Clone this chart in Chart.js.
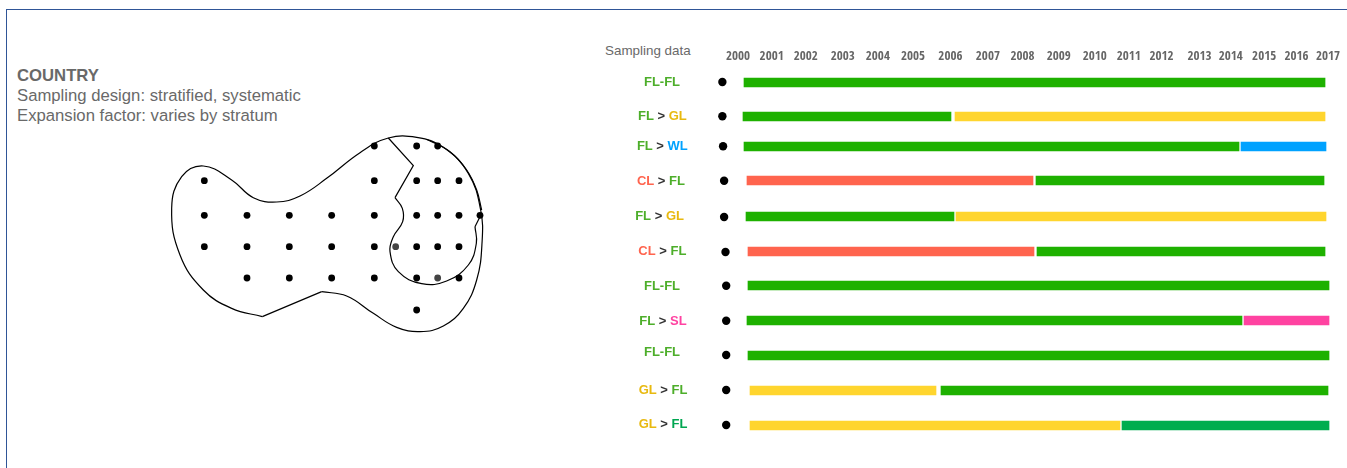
<!DOCTYPE html>
<html>
<head>
<meta charset="utf-8">
<script src="https://cdn.jsdelivr.net/npm/chart.js@4/dist/chart.umd.js"></script>
<style>
  html,body{margin:0;padding:0;background:#fff;width:1347px;height:468px;overflow:hidden;font-family:'Liberation Sans',Arial,sans-serif;}
  #frame{position:absolute;left:6px;top:9px;right:0;bottom:0;border-left:1px solid #2f5597;border-top:1px solid #2f5597;}
  canvas{position:absolute;display:block;}
  .t{position:absolute;white-space:nowrap;color:#696969;font-size:16.7px;line-height:20px;left:17px;}
</style>
</head>
<body>
<div id="frame"></div>
<div class="t" style="top:66px;font-weight:bold;">COUNTRY</div>
<div class="t" style="top:86px;">Sampling design: stratified, systematic</div>
<div class="t" style="top:106px;">Expansion factor: varies by stratum</div>
<div class="t" style="left:605px;top:41px;font-size:13.4px;">Sampling data</div>
<canvas id="map" width="340" height="210" style="left:160px;top:130px"></canvas>
<canvas id="timeline" width="757" height="468" style="left:590px;top:0"></canvas>
<script>
// ---- Timeline data ----
const yearLabels = ['2000','2001','2002','2003','2004','2005','2006','2007','2008','2009','2010','2011','2012','2013','2014','2015','2016','2017'];
const yearTickPositions = [2000,2000.97,2001.95,2003.02,2004.03,2005.04,2006.12,2007.2,2008.2,2009.24,2010.28,2011.26,2012.2,2013.3,2014.2,2015.16,2016.09,2017];
const rowFrom = ['FL','FL','FL','CL','FL','CL','FL','FL','FL','GL','GL'];
const rowSep  = ['-','>','>','>','>','>','-','>','-','>','>'];
const rowTo   = ['FL','GL','WL','FL','GL','FL','FL','SL','FL','FL','FL2'];
const rowLabelX = [1997.81,1997.82,1997.82,1997.78,1997.74,1997.82,1997.81,1997.84,1997.81,1997.84,1997.84];
const rowLabelY = [0.985,1.977,2.851,3.872,4.892,5.913,6.933,7.953,8.857,9.965,10.956];
const barY = [1,1.991,2.866,3.857,4.907,5.927,6.918,7.939,8.959,9.98,11];
const dotX = [1999.55,1999.55,1999.57,1999.6,1999.6,1999.64,1999.66,1999.66,1999.66,1999.66,1999.66];
const dotY = [0.985,1.985,2.86,3.863,4.92,5.94,6.924,7.944,8.945,9.965,10.985];
const firstStart = [2000.173,2000.144,2000.173,2000.259,2000.231,2000.288,2000.288,2000.259,2000.288,2000.346,2000.346];
const firstEnd   = [2016.914,2006.137,2014.436,2008.5,2006.224,2008.529,2017.029,2014.522,2017.029,2005.705,2011.007];
const secondStart= [null,2006.253,2014.493,2008.586,2006.281,2008.615,null,2014.58,null,2005.849,2011.064];
const secondEnd  = [null,2016.914,2016.942,2016.885,2016.942,2016.914,null,2017.029,null,2017,2017.029];
const barColors = {FL:'#1eb100',FL2:'#00ad4f',GL:'#ffd52e',WL:'#00a2ff',CL:'#ff644e',SL:'#ff42a1'};
const textColors = {FL:'#4dae2a',FL2:'#00a651',GL:'#e8b90f',WL:'#00a2ff',CL:'#ff644e',SL:'#ff42a1'};

// ---- Map data (units of the map's own grid) ----
const dotRows = [48,152,256,350,444,540];
const dotCols = [
  [643,770,833],
  [133,643,770,833,897],
  [133,261,388,515,643,770,833,897,960],
  [133,261,388,515,643,707,770,833,897],
  [261,388,515,643,770,833,897],
  [770]
];
const fadedDots = ['350:707','444:833'];
const outerCurve = [[485,485],[560,498],[640,550],[710,592],[780,605],[850,588],[910,535],[950,450],[966,340],[962,240],[925,130],[850,52],[770,22],[685,24],[600,68],[500,145],[420,198],[350,216],[280,203],[215,150],[130,108],[65,140],[35,235],[60,375],[130,480],[215,535],[307,560]];
const outerStraight = [[307,560],[485,485]];
const innerStraight = [[685,24],[760,107],[705,203]];
const innerCurve = [[705,203],[727,235],[728,275],[700,320],[690,365],[715,425],[785,461],[860,453],[925,405],[949,340],[945,290]];
const innerClose = [[945,290],[965,250]];
const edgeCurve = [[800,28],[870,65],[920,120],[950,180],[965,240]];

// ---- Timeline chart ----
const firstData = [], firstBg = [], secondData = [], secondBg = [];
barY.forEach((y,i)=>{
  firstData.push({x:[firstStart[i],firstEnd[i]],y});
  firstBg.push(barColors[rowFrom[i]]);
  if(secondStart[i]!==null){
    secondData.push({x:[secondStart[i],secondEnd[i]],y});
    secondBg.push(barColors[rowTo[i]]);
  }
});
const rowLabelPlugin = {
  id:'rowLabels',
  afterDraw(chart){
    const c = chart.ctx, sx = chart.scales.x, sy = chart.scales.y;
    c.save();
    c.font = "bold 13px 'Liberation Sans'";
    c.textBaseline = 'middle';
    c.textAlign = 'left';
    rowFrom.forEach((from,i)=>{
      const sep = rowSep[i]==='-' ? '-' : ' > ';
      const toText = rowTo[i].replace('2','');
      const parts = [[from,textColors[from]],[sep,rowSep[i]==='-'?textColors[from]:'#333'],[toText,textColors[rowTo[i]]]];
      const w = parts.reduce((a,p)=>a+c.measureText(p[0]).width,0);
      let x = sx.getPixelForValue(rowLabelX[i]) - w/2;
      const y = sy.getPixelForValue(rowLabelY[i]);
      parts.forEach(p=>{ c.fillStyle=p[1]; c.fillText(p[0],x,y); x+=c.measureText(p[0]).width; });
    });
    c.restore();
  }
};
new Chart(document.getElementById('timeline'),{
  data:{datasets:[
    {type:'bar',label:'First period',indexAxis:'y',data:firstData,backgroundColor:firstBg,barThickness:9,grouped:false,xAxisID:'x',yAxisID:'y'},
    {type:'bar',label:'Second period',indexAxis:'y',data:secondData,backgroundColor:secondBg,barThickness:9,grouped:false,xAxisID:'x',yAxisID:'y'},
    {type:'scatter',label:'Sampling',data:dotX.map((x,i)=>({x,y:dotY[i]})),backgroundColor:'#000',borderColor:'#000',pointRadius:4.2,pointBorderWidth:0,xAxisID:'x',yAxisID:'y'}
  ]},
  plugins:[rowLabelPlugin],
  options:{
    responsive:false,maintainAspectRatio:false,animation:false,
    layout:{padding:0,autoPadding:false},
    plugins:{legend:{display:false},tooltip:{enabled:false},title:{display:false}},
    scales:{
      x:{type:'linear',position:'top',offset:false,min:1995.736,max:2017.547,
        grid:{display:false,drawTicks:false},border:{display:false},
        afterBuildTicks(s){s.ticks = yearTickPositions.map(v=>({value:v}));},
        afterFit(s){s.height = 70;},
        ticks:{autoSkip:false,maxRotation:0,minRotation:0,padding:6,color:'#666',
          font:{family:"'Open Sans Condensed'",size:13,weight:'bold'},
          callback:(v,i)=>yearLabels[i]}
      },
      y:{type:'linear',offset:false,reverse:true,min:0.6356,max:12.239,display:false}
    }
  }
});

// ---- Map chart ----
const lineSet = (pts,tension)=>({data:pts.map(p=>({x:p[0],y:p[1]})),showLine:true,borderColor:'#000',borderWidth:1.2,pointRadius:0,tension,clip:false,fill:false});
const mapDots = [], mapDotColors = [];
dotRows.forEach((y,r)=>dotCols[r].forEach(x=>{
  mapDots.push({x,y});
  mapDotColors.push(fadedDots.includes(y+':'+x)?'#444':'#000');
}));
new Chart(document.getElementById('map'),{
  type:'scatter',
  data:{datasets:[
    lineSet(outerCurve,0.42),
    lineSet(outerStraight,0),
    lineSet(innerStraight,0),
    lineSet(innerCurve,0.42),
    lineSet(innerClose,0),
    lineSet(edgeCurve,0.4),
    {data:mapDots,backgroundColor:mapDotColors,borderWidth:0,pointRadius:3.4,clip:false}
  ]},
  options:{
    responsive:false,maintainAspectRatio:false,animation:false,
    layout:{padding:0,autoPadding:false},
    plugins:{legend:{display:false},tooltip:{enabled:false}},
    scales:{
      x:{type:'linear',offset:false,min:0,max:1020,display:false},
      y:{type:'linear',offset:false,min:0,max:630,reverse:true,display:false}
    }
  }
});
</script>
</body>
</html>
